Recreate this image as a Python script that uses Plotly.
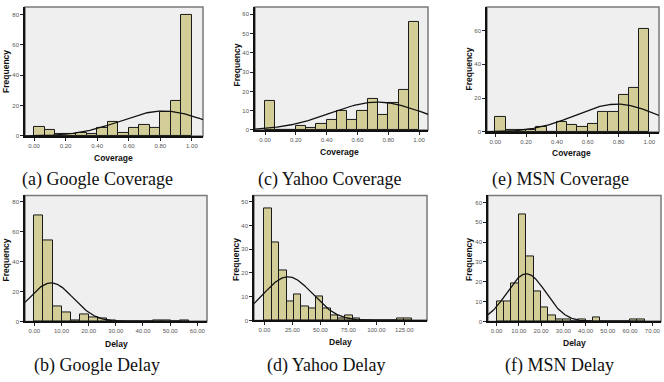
import numpy as np
import plotly.graph_objects as go

W, H = 664, 382

# ---------------- data ----------------
google_cov_counts = [6, 4, 1, 1, 2, 1, 5, 9, 2, 5, 7, 5, 16, 23, 80]
yahoo_cov_counts = [15, 0, 0, 2, 1, 3, 5, 10, 5, 10, 16, 8, 14, 21, 56]
msn_cov_counts = [9, 1, 1, 1, 3, 0, 6, 4, 3, 5, 12, 12, 22, 26, 61]
cov_bin_start = 0.0
cov_bin_width = 1.0 / 15

google_delay_counts = [71, 54, 10, 6, 1, 5, 3, 2, 1, 0, 0, 0, 0, 1, 1, 0, 1]
google_delay_bin_width = 3.35
yahoo_delay_counts = [47, 33, 21, 8, 11, 6, 5, 10, 5, 2, 1, 2, 1, 0, 0, 0, 0, 0, 1, 1]
yahoo_delay_bin_width = 6.58
msn_delay_counts = [10, 10, 19, 54, 33, 15, 7, 3, 1, 1, 0, 1, 0, 2, 0, 0, 0, 0, 1, 1]
msn_delay_bin_width = 3.333

# normal-curve parameters (mean, sd)
google_cov_fit = (0.82, 0.27)
yahoo_cov_fit = (0.73, 0.305)
msn_cov_fit = (0.79, 0.268)
google_delay_fit = (6.2, 8.1)
yahoo_delay_fit = (21.0, 22.0)
msn_delay_fit = (13.4, 8.75)

captions = ["(a) Google Coverage", "(c) Yahoo Coverage", "(e) MSN Coverage",
            "(b) Google Delay", "(d) Yahoo Delay", "(f) MSN Delay"]
x_titles = ["Coverage", "Coverage", "Coverage", "Delay", "Delay", "Delay"]

cov_ticks = [0, 0.2, 0.4, 0.6, 0.8, 1.0]
google_delay_ticks = [0, 10, 20, 30, 40, 50, 60]
yahoo_delay_ticks = [0, 25, 50, 75, 100, 125]
msn_delay_ticks = [0, 10, 20, 30, 40, 50, 60, 70]

# ---------------- layout (pixels) ----------------
panels = [
    dict(counts=google_cov_counts, start=cov_bin_start, bw=cov_bin_width, fit=google_cov_fit,
         box=(25, 203, 7, 137), xr=(-0.057, 1.07), yr=(0, 85), xt=cov_ticks, yt=[0, 20, 40, 60, 80],
         ytitle=(6.5, 72), xtitle=(113, 159), cap=(97.5, 181)),
    dict(counts=yahoo_cov_counts, start=cov_bin_start, bw=cov_bin_width, fit=yahoo_cov_fit,
         box=(255, 428, 7, 131), xr=(-0.065, 1.058), yr=(0, 63.8), xt=cov_ticks, yt=[0, 10, 20, 30, 40, 50, 60],
         ytitle=(237, 66), xtitle=(339, 153), cap=(329, 181)),
    dict(counts=msn_cov_counts, start=cov_bin_start, bw=cov_bin_width, fit=msn_cov_fit,
         box=(487, 659, 7, 133), xr=(-0.054, 1.063), yr=(0, 74), xt=cov_ticks, yt=[0, 20, 40, 60],
         ytitle=(469, 70), xtitle=(571, 154), cap=(560, 181)),
    dict(counts=google_delay_counts, start=0.0, bw=google_delay_bin_width, fit=google_delay_fit,
         box=(25, 207, 197, 324), xr=(-3.42, 63.56), yr=(0, 84), xt=google_delay_ticks, yt=[0, 20, 40, 60, 80],
         ytitle=(5.5, 262), xtitle=(116, 347), cap=(97, 368)),
    dict(counts=yahoo_delay_counts, start=0.0, bw=yahoo_delay_bin_width, fit=yahoo_delay_fit,
         box=(254, 427, 197, 323), xr=(-9.35, 145.3), yr=(0, 52.6), xt=yahoo_delay_ticks, yt=[0, 10, 20, 30, 40, 50],
         ytitle=(236, 262), xtitle=(340, 345), cap=(326, 368)),
    dict(counts=msn_delay_counts, start=0.0, bw=msn_delay_bin_width, fit=msn_delay_fit,
         box=(488, 661, 197, 324), xr=(-3.85, 73.9), yr=(0, 63.5), xt=msn_delay_ticks, yt=[0, 10, 20, 30, 40, 50, 60],
         ytitle=(469, 262), xtitle=(574, 346), cap=(559, 368)),
]

BAR = "#d3ce97"
BG = "#efefef"

fig = go.Figure()
layout = dict(width=W, height=H, margin=dict(l=0, r=0, t=0, b=0),
              paper_bgcolor="white", plot_bgcolor="rgba(0,0,0,0)", showlegend=False)
shapes, annotations = [], []

def px(x):
    return x / W

def py(y):
    return 1 - y / H

for i, p in enumerate(panels):
    k = "" if i == 0 else str(i + 1)
    xa, ya = "x" + k, "y" + k
    counts = np.array(p["counts"], dtype=float)
    centers = p["start"] + p["bw"] * (np.arange(len(counts)) + 0.5)
    x0, x1, y0, y1 = p["box"]

    # background frame
    shapes.append(dict(type="rect", xref=xa + " domain", yref=ya + " domain", x0=0, x1=1, y0=0, y1=1,
                       fillcolor=BG, line=dict(color="#7a7a7a", width=1.5), layer="below"))

    fig.add_trace(go.Bar(x=centers, y=counts, width=p["bw"], xaxis=xa, yaxis=ya,
                         marker=dict(color=BAR, line=dict(color="#1a1a1a", width=1)),
                         hoverinfo="skip"))
    mu, sd = p["fit"]
    n = counts.sum()
    xs = np.linspace(p["xr"][0], p["xr"][1], 300)
    ys = n * p["bw"] * np.exp(-0.5 * ((xs - mu) / sd) ** 2) / (sd * np.sqrt(2 * np.pi))
    fig.add_trace(go.Scatter(x=xs, y=ys, mode="lines", xaxis=xa, yaxis=ya,
                             line=dict(color="#111111", width=1.3), hoverinfo="skip"))

    layout["xaxis" + k] = dict(domain=[px(x0), px(x1)], anchor=ya, range=list(p["xr"]),
                               tickvals=p["xt"], tickformat=".2f", ticks="outside", ticklen=3,
                               tickcolor="#222", tickwidth=1, showgrid=False, zeroline=False,
                               showline=True, linecolor="#111", linewidth=1.5,
                               tickfont=dict(family="Arial, Liberation Sans", size=6, color="#555"))
    layout["yaxis" + k] = dict(domain=[py(y1), py(y0)], anchor=xa, range=list(p["yr"]),
                               tickvals=p["yt"], ticks="outside", ticklen=3,
                               tickcolor="#222", tickwidth=1, showgrid=False, zeroline=False,
                               showline=True, linecolor="#111", linewidth=1.5,
                               tickfont=dict(family="Arial, Liberation Sans", size=6, color="#555"))

    tx, ty = p["ytitle"]
    annotations.append(dict(text="<b>Frequency</b>", x=px(tx), y=py(ty), xref="paper", yref="paper",
                            textangle=-90, showarrow=False, xanchor="center", yanchor="middle",
                            font=dict(family="Arial, Liberation Sans", size=8.5, color="#111")))
    tx, ty = p["xtitle"]
    annotations.append(dict(text="<b>%s</b>" % x_titles[i], x=px(tx), y=py(ty), xref="paper", yref="paper",
                            showarrow=False, xanchor="center", yanchor="middle",
                            font=dict(family="Arial, Liberation Sans", size=8.5, color="#111")))
    tx, ty = p["cap"]
    annotations.append(dict(text=captions[i], x=px(tx), y=py(ty), xref="paper", yref="paper",
                            showarrow=False, xanchor="center", yanchor="middle",
                            font=dict(family="Liberation Serif, Times New Roman, serif", size=18, color="#111")))

layout["shapes"] = shapes
layout["annotations"] = annotations
layout["bargap"] = 0
fig.update_layout(**layout)
fig.write_html("out.html")
